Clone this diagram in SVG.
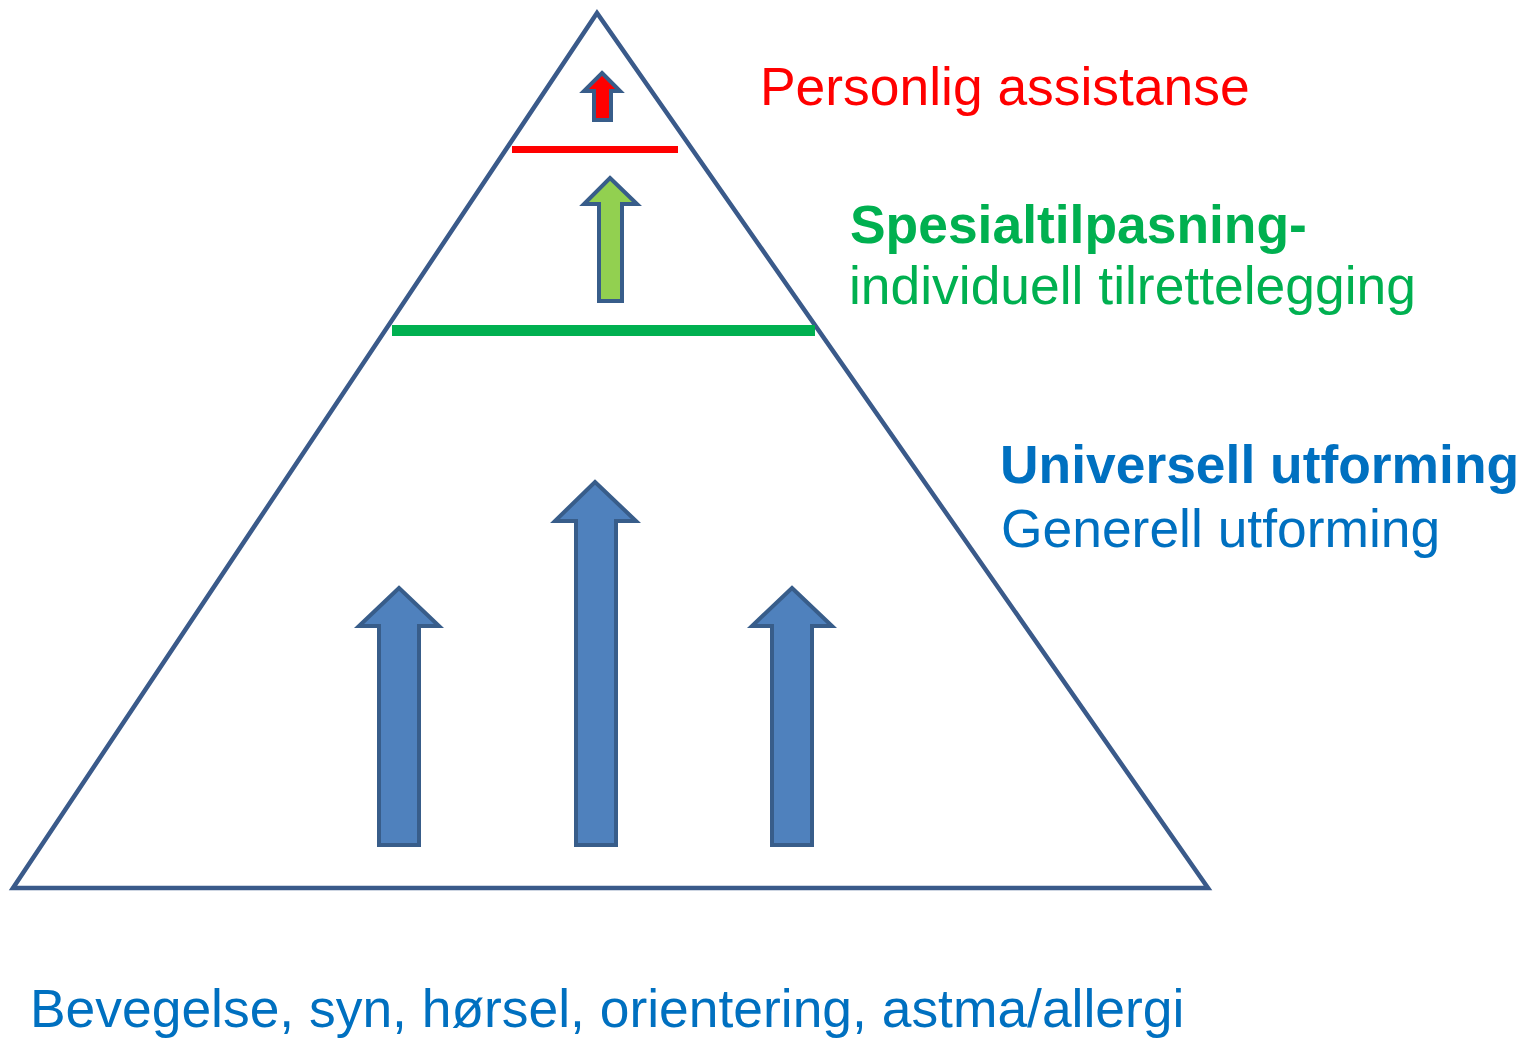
<svg xmlns="http://www.w3.org/2000/svg" width="1522" height="1038" viewBox="0 0 1522 1038">
<style>
.t{font-family:"Liberation Sans",Arial,sans-serif;font-size:53.4px}
.b{font-weight:bold}
.arr{stroke:#385D8A;stroke-width:4;stroke-linejoin:miter}
.blue{fill:#4F81BD}
</style>
<rect width="1522" height="1038" fill="#FFFFFF"/>
<g id="pyramid">
<polygon points="597,13 13,888 1208,888" fill="none" stroke="#3A5A8A" stroke-width="4.5" stroke-linejoin="miter"/>
</g>
<g id="dividers">
<line x1="512" y1="149.5" x2="678" y2="149.5" stroke="#FF0000" stroke-width="7"/>
<line x1="392" y1="330.5" x2="815" y2="330.5" stroke="#00B050" stroke-width="11"/>
</g>
<g id="connectors">
<polygon id="arrow-red" class="arr" fill="#FF0000" points="602,73 620,91 611,91 611,120 594,120 594,91 584,91" stroke-width="5"/>
<polygon id="arrow-green" class="arr" fill="#92D050" points="610,178 637,204 622,204 622,301 599,301 599,204 584,204"/>
<polygon id="arrow-center" class="arr blue" points="595,482 636,521 616,521 616,845 576,845 576,521 555,521"/>
<polygon id="arrow-left" class="arr blue" points="399,588 439,626 419,626 419,845 379,845 379,626 359,626"/>
<polygon id="arrow-right" class="arr blue" points="792,588 832,626 812,626 812,845 772,845 772,626 752,626"/>
</g>
<g id="label-personlig">
<text class="t" x="760" y="105" fill="#FF0000">Personlig assistanse</text>
</g>
<g id="label-spesial">
<text class="t b" x="850" y="243" fill="#00B050">Spesialtilpasning-</text>
<text class="t" x="849" y="304" fill="#00B050">individuell tilrettelegging</text>
</g>
<g id="label-universell">
<text class="t b" x="1000" y="483" fill="#0070C0">Universell utforming</text>
<text class="t" x="1001" y="547" fill="#0070C0">Generell utforming</text>
</g>
<g id="label-bottom">
<text class="t" x="30" y="1027" fill="#0070C0">Bevegelse, syn, hørsel, orientering, astma/allergi</text>
</g>
</svg>
